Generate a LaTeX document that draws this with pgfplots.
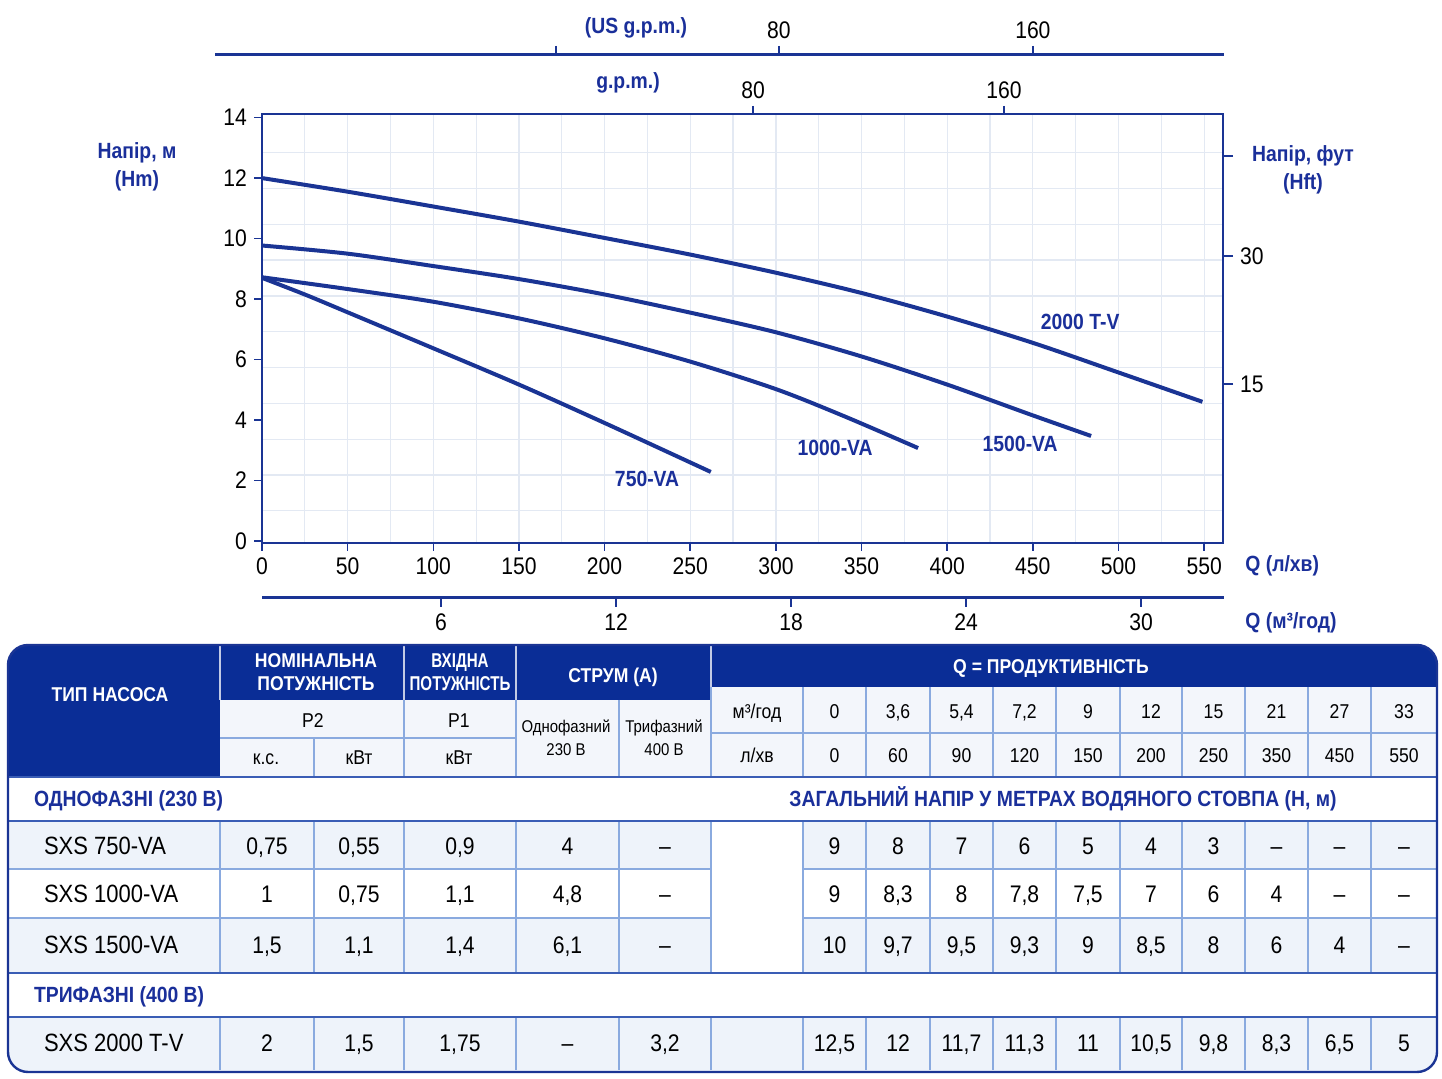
\documentclass[border=0pt]{standalone}
\usepackage{fontspec}
\setmainfont{Liberation Sans}[FakeStretch=0.88]
\usepackage{graphicx}
\usepackage{pgfplots}
\pgfplotsset{compat=1.18}
\definecolor{navy}{HTML}{0A2D96}
\definecolor{cb}{HTML}{1A3494}
\definecolor{tb}{HTML}{1A2F9A}
\definecolor{gridc}{HTML}{E3E9F3}
\definecolor{tline}{HTML}{8AAADF}
\definecolor{sline}{HTML}{3A5DB5}
\definecolor{rowfill}{HTML}{EEF3FA}
\definecolor{hdrfill}{HTML}{F3F6FB}
\newcommand\fT{\fontsize{12}{14}\selectfont}
\newcommand\fN{\fontsize{12.5}{14}\selectfont}
\newcommand\fH{\fontsize{10}{11.5}\selectfont\bfseries}
\newcommand\fS{\fontsize{8.5}{11.5}\selectfont}
\newcommand\fQ{\fontsize{10}{12}\selectfont}
\newcommand\fB{\fontsize{11}{12}\selectfont\bfseries}
\pgfplotsset{
  tickfont/.style={ticklabel style={font=\fontsize{12}{12}\selectfont, text=black}},
}
\tikzset{tn/.style={text height=0.72em, text depth=0pt}}
\begin{document}
\begin{tikzpicture}
\begin{scope}[x=0.5pt,y=-0.5pt]
\path[use as bounding box, fill=white] (0,0) rectangle (1442,1079);
\end{scope}

% main axis
\begin{axis}[
  at={(131pt,-271.5pt)}, anchor=south west,
  scale only axis, width=480.5pt, height=214.5pt,
  xmin=0, xmax=561, ymin=-0.07, ymax=14.12,
  axis line style={draw=cb, line width=1.1pt},
  every tick/.style={draw=cb, line width=0.8pt},
  tick align=outside, major tick length=4pt, minor tick length=0pt,
  xtick={0,50,...,550}, ytick={0,2,...,14},
  xtick pos=left, ytick pos=left,
  minor xtick={25,75,...,525},
  minor ytick={1.0,2.18,3.36,4.55,5.74,6.92,8.10,9.29,10.47,11.66,12.84},
  xmajorgrids, xminorgrids, yminorgrids,
  major grid style={draw=gridc, line width=0.6pt},
  minor grid style={draw=gridc, line width=0.6pt},
  tickfont,
  /pgf/number format/assume math mode=true,
  clip=false,
]
\addplot[cb, line width=2pt, smooth] coordinates {
 (0,8.70) (25,8.15) (50,7.56) (100,6.37) (150,5.17) (200,3.90) (262,2.28)};
\addplot[cb, line width=2pt, smooth] coordinates {
 (0,8.72) (50,8.33) (100,7.91) (150,7.36) (200,6.70) (250,5.93) (300,5.02) (340,4.12) (383,3.07)};
\addplot[cb, line width=2pt, smooth] coordinates {
 (0,9.77) (50,9.50) (100,9.09) (150,8.66) (200,8.15) (250,7.55) (300,6.90) (350,6.10) (400,5.17) (450,4.15) (484,3.47)};
\addplot[cb, line width=2pt, smooth] coordinates {
 (0,12.0) (50,11.55) (100,11.06) (150,10.56) (200,10.02) (250,9.47) (300,8.87) (350,8.20) (400,7.42) (450,6.55) (500,5.57) (549,4.60)};
\node[text=tb, font=\fB] at (axis cs:477.6,7.24) {2000 T-V};
\node[text=tb, font=\fB] at (axis cs:442.6,3.21) {1500-VA};
\node[text=tb, font=\fB] at (axis cs:334.6,3.07) {1000-VA};
\node[text=tb, font=\fB] at (axis cs:224.8,2.05) {750-VA};
\end{axis}

% right axis (feet)
\begin{axis}[
  at={(131pt,-271.5pt)}, anchor=south west,
  scale only axis, width=480.5pt, height=214.5pt,
  xmin=0, xmax=561, ymin=-0.07, ymax=14.12,
  hide x axis, axis y line*=right,
  y axis line style={draw=cb, line width=1.1pt, -},
  every tick/.style={draw=cb, line width=0.8pt},
  ytick={5.19,9.42,12.73}, yticklabels={15,30,{}},
  tick align=outside, major tick length=5pt,
  tickfont, /pgf/number format/assume math mode=true,
]
\end{axis}

% top g.p.m. axis
\begin{axis}[
  at={(131pt,-271.5pt)}, anchor=south west,
  scale only axis, width=480.5pt, height=214.5pt,
  xmin=-76.5, xmax=229.8, ymin=0, ymax=1,
  hide y axis, axis x line*=top,
  x axis line style={draw=cb, line width=1.1pt, -},
  every tick/.style={draw=cb, line width=0.8pt},
  xtick={80,160},
  tick align=outside, major tick length=4pt,
  tickfont, /pgf/number format/assume math mode=true,
]
\end{axis}

% US g.p.m. axis
\begin{axis}[
  at={(107.5pt,-27.5pt)}, anchor=north west,
  scale only axis, width=504.5pt, height=2pt,
  xmin=-97.6, xmax=220.2, ymin=0, ymax=1,
  hide y axis, axis x line*=top,
  x axis line style={draw=cb, line width=1.5pt, -},
  every tick/.style={draw=cb, line width=0.8pt},
  xtick={9.76,80,160}, xticklabels={{},80,160},
  tick align=outside, major tick length=4.5pt,
  tickfont, /pgf/number format/assume math mode=true,
]
\end{axis}

% m3/h axis
\begin{axis}[
  at={(131pt,-299pt)}, anchor=south west,
  scale only axis, width=481pt, height=2pt,
  xmin=-0.14, xmax=32.84, ymin=0, ymax=1,
  hide y axis, axis x line*=bottom,
  x axis line style={draw=cb, line width=1.5pt, -},
  every tick/.style={draw=cb, line width=0.8pt},
  xtick={6,12,18,24,30},
  tick align=outside, major tick length=4.5pt,
  tickfont, /pgf/number format/assume math mode=true,
]
\end{axis}

\begin{scope}[x=0.5pt,y=-0.5pt]
% chart labels
\node[text=tb, font=\fB] at (636,28) {(US g.p.m.)};
\node[text=tb, font=\fB] at (628,83) {g.p.m.)};
\node[text=tb, font=\fB] at (137,153) {Напір, м};
\node[text=tb, font=\fB] at (137,181) {(Hm)};
\node[text=tb, font=\fB] at (1303,156) {Напір, фут};
\node[text=tb, font=\fB] at (1303,184) {(Hft)};
\node[text=tb, font=\fB, anchor=west, inner sep=0pt] at (1245,566) {Q (л/хв)};
\node[text=tb, font=\fB, anchor=west, inner sep=0pt] at (1245,623) {Q (м³/год)};

% ---------- table ----------
\begin{scope}
\clip[rounded corners=10] (8,645) rectangle (1437,1072);
\fill[white] (8,645) rectangle (1437,1072);
\fill[navy] (8,645) rectangle (1437,687);
\fill[navy] (8,645) rectangle (220,777);
\fill[navy] (220,645) rectangle (711,700);
\fill[hdrfill] (220,700) rectangle (711,777);
\fill[hdrfill] (711,687) rectangle (1437,777);
\fill[rowfill] (8,821) rectangle (1437,869);
\fill[rowfill] (8,918) rectangle (1437,973);
\fill[rowfill] (8,1017) rectangle (1437,1072);
\fill[white] (711,821) rectangle (803,973);
\end{scope}
% header separators inside navy
\foreach \x in {220,404,516,711}{\draw[white!75!navy, line width=0.6pt] (\x,645) -- (\x,700);}
% header light grid
\draw[tline, line width=0.6pt] (220,738) -- (516,738);
\draw[tline, line width=0.6pt] (711,733) -- (1437,733);
\foreach \x in {314}{\draw[tline, line width=0.6pt] (\x,738) -- (\x,777);}
\foreach \x in {404,516,619}{\draw[tline, line width=0.6pt] (\x,700) -- (\x,777);}
\foreach \x in {711,803,866,930,993,1056,1120,1182,1245,1308,1371}{\draw[tline, line width=0.6pt] (\x,687) -- (\x,777);}
% body verticals
\foreach \x in {220,314,404,516,619,711,803,866,930,993,1056,1120,1182,1245,1308,1371}{
  \draw[tline, line width=0.6pt] (\x,821) -- (\x,973);
  \draw[tline, line width=0.6pt] (\x,1017) -- (\x,1070);}
% body horizontals
\foreach \y in {869,918}{
  \draw[tline, line width=0.6pt] (8,\y) -- (711,\y);
  \draw[tline, line width=0.6pt] (803,\y) -- (1437,\y);}
\foreach \y in {777,821,973,1017}{\draw[sline, line width=1pt] (8,\y) -- (1437,\y);}
\draw[cb, line width=1.2pt, rounded corners=10] (8,645) rectangle (1437,1072);

% header text
\node[text=white, font=\fH, tn] at (110,694) {ТИП НАСОСА};
\node[text=white, font=\fH, align=center] at (316,672.5) {НОМІНАЛЬНА\\ПОТУЖНІСТЬ};
\node[text=white, font=\fH, align=center] at (460,672.5) {\scalebox{0.86}[1]{ВХІДНА}\\\scalebox{0.86}[1]{ПОТУЖНІСТЬ}};
\node[text=white, font=\fH, tn] at (613,675) {СТРУМ (А)};
\node[text=white, font=\fH, tn] at (1051,666) {Q = ПРОДУКТИВНІСТЬ};
\node[font=\fQ, tn] at (313,720) {P2};
\node[font=\fQ, tn] at (459,720) {P1};
\node[font=\fQ, tn] at (266,757) {к.с.};
\node[font=\fQ, tn] at (359,757) {кВт};
\node[font=\fQ, tn] at (459,757) {кВт};
\node[font=\fS, align=center] at (566,738) {Однофазний\\230 В};
\node[font=\fS, align=center] at (664,738) {Трифазний\\400 В};
\node[font=\fQ, tn] at (757,711) {м³/год};
\node[font=\fQ, tn] at (757,755) {л/хв};
\foreach \x/\v in {834.5/0, 898/{3,6}, 961.5/{5,4}, 1024.5/{7,2}, 1088/9, 1151/12, 1213.5/15, 1276.5/21, 1339.5/27, 1404/33}{\node[font=\fQ, tn] at (\x,711) {\v};}
\foreach \x/\v in {834.5/0, 898/60, 961.5/90, 1024.5/120, 1088/150, 1151/200, 1213.5/250, 1276.5/350, 1339.5/450, 1404/550}{\node[font=\fQ, tn] at (\x,755) {\v};}

% section labels
\node[text=tb, font=\fB, anchor=west, tn] at (27,799) {ОДНОФАЗНІ (230 В)};
\node[text=tb, font=\fB, tn] at (1063,799) {ЗАГАЛЬНИЙ НАПІР У МЕТРАХ ВОДЯНОГО СТОВПА (Н, м)};
\node[text=tb, font=\fB, anchor=west, tn] at (27,995) {ТРИФАЗНІ (400 В)};

% rows
\node[font=\fN, anchor=west, tn] at (37,847) {SXS 750-VA};
\node[font=\fN, anchor=west, tn] at (37,895) {SXS 1000-VA};
\node[font=\fN, anchor=west, tn] at (37,946) {SXS 1500-VA};
\node[font=\fN, anchor=west, tn] at (37,1044) {SXS 2000 T-V};
\foreach \x/\v in {267/{0,75}, 359/{0,55}, 460/{0,9}, 567.5/4, 665/–, 834.5/9, 898/8, 961.5/7, 1024.5/6, 1088/5, 1151/4, 1213.5/3, 1276.5/–, 1339.5/–, 1404/–}{\node[font=\fT, tn] at (\x,847) {\v};}
\foreach \x/\v in {267/1, 359/{0,75}, 460/{1,1}, 567.5/{4,8}, 665/–, 834.5/9, 898/{8,3}, 961.5/8, 1024.5/{7,8}, 1088/{7,5}, 1151/7, 1213.5/6, 1276.5/4, 1339.5/–, 1404/–}{\node[font=\fT, tn] at (\x,895) {\v};}
\foreach \x/\v in {267/{1,5}, 359/{1,1}, 460/{1,4}, 567.5/{6,1}, 665/–, 834.5/10, 898/{9,7}, 961.5/{9,5}, 1024.5/{9,3}, 1088/9, 1151/{8,5}, 1213.5/8, 1276.5/6, 1339.5/4, 1404/–}{\node[font=\fT, tn] at (\x,946) {\v};}
\foreach \x/\v in {267/2, 359/{1,5}, 460/{1,75}, 567.5/–, 665/{3,2}, 834.5/{12,5}, 898/12, 961.5/{11,7}, 1024.5/{11,3}, 1088/11, 1151/{10,5}, 1213.5/{9,8}, 1276.5/{8,3}, 1339.5/{6,5}, 1404/5}{\node[font=\fT, tn] at (\x,1044) {\v};}
\end{scope}
\end{tikzpicture}
\end{document}
